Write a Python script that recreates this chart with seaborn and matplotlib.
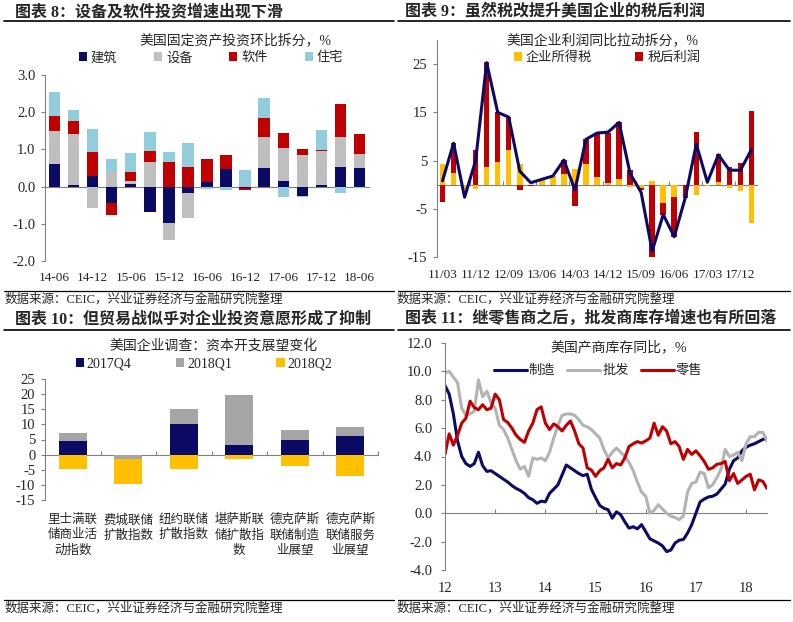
import matplotlib
matplotlib.use('Agg')  # no display
import matplotlib.pyplot as plt
from matplotlib.lines import Line2D
from matplotlib.ticker import FormatStrFormatter
import numpy as np
import pandas as pd
import seaborn as sns

# ---------------- data ----------------
# 图表 8: 美国固定资产投资环比拆分, %
quarters8 = ['14-06', '14-09', '14-12', '15-03', '15-06', '15-09', '15-12', '16-03', '16-06',
             '16-09', '16-12', '17-03', '17-06', '17-09', '17-12', '18-03', '18-06']
construction = [0.62, 0.03, 0.28, -0.43, 0.07, -0.69, -0.99, -0.18, 0.12, 0.47, -0.04, 0.50, 0.15, -0.26, 0.03, 0.52, 0.50]
equipment = [0.88, 1.38, -0.58, 0.39, 0.08, 0.67, -0.45, -0.66, 0.00, 0.00, 0.02, 0.82, 0.88, 0.86, 0.92, 0.80, 0.37]
software = [0.41, 0.36, 0.64, -0.34, 0.24, 0.29, 0.66, 0.53, 0.63, 0.39, -0.04, 0.52, 0.42, 0.14, 0.03, 0.90, 0.55]
residential = [0.64, 0.30, 0.64, 0.36, 0.50, 0.51, 0.28, 0.65, -0.06, -0.09, 0.42, 0.54, -0.29, -0.02, 0.55, -0.18, -0.05]
names8 = ['建筑', '设备', '软件', '住宅']

# 图表 9: 美国企业利润同比拉动拆分, %
quarters9 = ['11/03', '11/06', '11/09', '11/12', '12/03', '12/06', '12/09', '12/12', '13/03', '13/06',
             '13/09', '13/12', '14/03', '14/06', '14/09', '14/12', '15/03', '15/06', '15/09', '15/12',
             '16/03', '16/06', '16/09', '16/12', '17/03', '17/06', '17/09', '17/12', '18/03']
corp_tax = [4.2, 2.5, -1.0, -1.0, 3.6, 4.8, 7.2, 4.2, 0.0, 1.0, 1.7, 2.3, 3.2, 4.2, 1.5,
            0.3, 1.1, -0.5, -0.7, 0.7, -3.8, -2.6, 0.0, -2.2, -0.3, 0.5, -0.7, -1.4, -7.9]
after_tax = [-3.5, 6.1, 0.0, 7.2, 21.8, 10.2, 6.9, -1.2, -0.3, 0.0, 0.0, 2.8, -4.4, 5.2, 9.1,
             10.5, 11.8, 3.0, -0.5, -15.0, -2.5, -8.2, -2.7, 11.0, 0.0, 5.8, 3.7, 4.4, 15.3]
profit_total = [0.8, 8.6, -2.6, 5.0, 25.3, 15.0, 14.0, 2.8, 0.4, 1.1, 1.8, 5.1, -1.1, 9.4, 10.7,
                10.9, 12.9, 2.3, -1.6, -13.8, -6.2, -10.8, -2.7, 8.4, 0.5, 6.2, 3.0, 3.0, 7.3]
names9 = ['企业所得税', '税后利润']

# 图表 10: 美国企业调查: 资本开支展望变化
surveys = ['里士满联\n储商业活\n动指数', '费城联储\n扩散指数', '纽约联储\n扩散指数',
           '堪萨斯联\n储扩散指\n数', '德克萨斯\n联储制造\n业展望', '德克萨斯\n联储服务\n业展望']
q4_2017 = [4.5, 0.0, 10.0, 3.2, 4.9, 6.1]
q1_2018 = [2.7, -1.4, 5.0, 16.4, 3.4, 3.0]
q2_2018 = [-4.9, -8.2, -4.8, -1.5, -3.9, -7.2]
names10 = ['2017Q4', '2018Q1', '2018Q2']

# 图表 11: 美国产商库存同比, % (monthly from 2012-01)
manufacturing = [9.0, 8.4, 7.0, 5.1, 4.0, 3.5, 3.3, 3.5, 4.3, 3.35, 2.95, 3.0,
                 2.8, 2.6, 2.4, 2.2, 1.95, 1.75, 1.6, 1.4, 1.1, 0.95, 0.7, 0.85,
                 0.8, 1.4, 1.7, 2.0, 2.7, 3.4, 3.2, 3.0, 2.8, 2.65, 2.75, 1.7,
                 1.1, 0.55, 0.35, 0.25, -0.35, 0.1, -0.1, -0.6, -1.05, -0.95, -1.1, -0.8,
                 -1.3, -1.8, -1.95, -2.1, -2.3, -2.7, -2.6, -2.1, -1.9, -1.85, -1.4, -0.8,
                 0.0, 0.8, 1.0, 1.15, 1.2, 1.35, 1.7, 2.05, 3.1, 3.7, 3.9, 4.4,
                 4.65, 4.8, 4.9, 5.05, 5.2, 5.3]
wholesale = [9.9, 10.0, 9.6, 9.2, 7.4, 6.9, 7.0, 7.2, 9.4, 8.2, 8.6, 7.8,
             7.4, 6.2, 5.9, 5.3, 4.5, 3.7, 3.1, 3.3, 2.6, 3.9, 3.8, 3.9,
             3.7, 4.3, 5.3, 6.2, 6.9, 7.0, 7.0, 6.9, 6.6, 6.2, 6.1, 5.9,
             5.6, 5.3, 4.5, 3.9, 4.3, 4.6, 4.3, 4.0, 3.6, 3.0, 2.2, 1.5,
             1.2, 0.0, 0.2, 0.6, 0.3, 0.0, -0.2, -0.3, -0.45, -0.2, 1.5, 2.1,
             2.2, 2.9, 2.8, 1.8, 2.0, 2.5, 3.1, 4.5, 4.0, 4.1, 4.3, 3.7,
             4.9, 5.4, 5.4, 5.7, 5.7, 5.1]
retail = [4.15, 5.6, 4.8, 5.5, 6.35, 6.7, 7.9, 7.45, 7.3, 7.65, 7.3, 7.4,
          8.4, 8.0, 6.6, 6.4, 6.0, 5.5, 5.2, 5.0, 5.8, 6.35, 7.3, 7.5,
          6.35, 5.9, 6.3, 6.1, 5.8, 6.2, 6.5, 5.8, 4.9, 4.6, 3.2, 3.05,
          2.6, 3.0, 3.2, 3.8, 3.2, 3.5, 3.4, 3.9, 4.7, 4.9, 5.05, 4.95,
          5.1, 5.3, 6.35, 5.5, 6.1, 5.8, 4.9, 5.05, 4.7, 3.8, 4.5, 4.15,
          4.4, 4.05, 3.65, 3.1, 3.2, 3.45, 3.5, 3.65, 2.3, 2.8, 2.1, 2.35,
          2.6, 2.75, 1.65, 2.35, 2.25, 1.75]
names11 = ['制造', '批发', '零售']

# ---------------- style ----------------
sns.set_theme(style='white')
plt.rcParams['font.family'] = ['Liberation Serif', 'Noto Sans CJK SC']
plt.rcParams['axes.unicode_minus'] = False

NAVY = '#0b0b66'
RED = '#c00000'
LBLUE = '#92cddc'
YELLOW = '#ffc000'
AXC = '#808080'

W, H = 793, 622
fig = plt.figure(figsize=(W / 100, H / 100), dpi=100)
fig.patch.set_facecolor('white')


def px_axes(l, t, r, b):
    return fig.add_axes([l / W, 1 - b / H, (r - l) / W, (b - t) / H])


def fig_text(x, y, s, **kw):
    fig.text(x / W, 1 - y / H, s, **kw)


def hline(x0, x1, y, lw=1.2):
    fig.add_artist(Line2D([x0 / W, x1 / W], [1 - y / H, 1 - y / H], color='black',
                          lw=lw, transform=fig.transFigure))


def style_axes(ax, ypad=4):
    for s in ['top', 'right', 'bottom']:
        ax.spines[s].set_visible(False)
    ax.spines['left'].set_color(AXC)
    ax.spines['left'].set_linewidth(0.8)
    ax.tick_params(axis='y', left=True, length=3, width=0.8, color=AXC, labelsize=10.5, pad=ypad)
    ax.tick_params(axis='x', bottom=False, length=0, labelsize=10.5)
    ax.set_xlabel('')
    ax.set_ylabel('')
    ax.grid(False)


def zero_axis(ax, frac, ticks):
    sec = ax.secondary_xaxis(frac)
    sec.set_xticks(ticks)
    sec.tick_params(direction='in', length=3, width=0.8, color=AXC, labelbottom=False)
    sec.spines['bottom'].set_color(AXC)
    sec.spines['bottom'].set_linewidth(0.8)
    return sec


def stacked_bars(ax, cats, series, names, colors, width):
    pos = np.zeros(len(cats))
    neg = np.zeros(len(cats))
    for vals, name, c in zip(series, names, colors):
        vals = np.asarray(vals, dtype=float)
        bottom = np.where(vals >= 0, pos, neg)
        sns.barplot(x=cats, y=vals, bottom=bottom, color=c, saturation=1, width=width,
                    errorbar=None, label=name, linewidth=0, ax=ax)
        pos += np.clip(vals, 0, None)
        neg += np.clip(vals, None, 0)


def add_legend(ax, cx, cy, ncol, **kw):
    opts = dict(loc='center', bbox_to_anchor=(cx / W, 1 - cy / H), bbox_transform=fig.transFigure,
                ncol=ncol, frameon=False, fontsize=9.5, borderpad=0, borderaxespad=0)
    opts.update(kw)
    ax.legend(**opts)


title_kw = dict(fontsize=11.5, fontweight='bold', ha='left', va='center')
chart_kw = dict(fontsize=10, ha='center', va='center')
src_kw = dict(fontsize=9, ha='left', va='center')
source = '数据来源：CEIC，兴业证券经济与金融研究院整理'

# frame texts and rules
fig_text(15, 12, '图表 8：设备及软件投资增速出现下滑', **title_kw)
fig_text(405, 12, '图表 9：虽然税改提升美国企业的税后利润', **title_kw)
fig_text(15, 319, '图表 10：但贸易战似乎对企业投资意愿形成了抑制', **title_kw)
fig_text(405, 319, '图表 11：继零售商之后，批发商库存增速也有所回落', **title_kw)
hline(4, 394, 21)
hline(398, 790, 21)
hline(4, 394, 330)
hline(398, 790, 330)
hline(4, 394, 291, 0.9)
hline(398, 790, 291, 0.9)
hline(4, 394, 600, 0.9)
hline(398, 790, 600, 0.9)
fig_text(5, 299, source, **src_kw)
fig_text(397, 299, source, **src_kw)
fig_text(5, 608, source, **src_kw)
fig_text(397, 608, source, **src_kw)

# ---------------- panel 8 ----------------
ax8 = px_axes(45, 75, 369, 261)
stacked_bars(ax8, quarters8, [construction, equipment, software, residential], names8,
             [NAVY, '#bfbfbf', RED, LBLUE], 0.6)
style_axes(ax8)
ax8.set_ylim(-2, 3)
ax8.set_yticks(np.arange(-2, 3.01, 1))
ax8.yaxis.set_major_formatter(FormatStrFormatter('%.1f'))
ax8.set_xlim(-0.5, len(quarters8) - 0.5)
ax8.set_xticks(range(0, len(quarters8), 2))
ax8.set_xticklabels(quarters8[::2])
ax8.tick_params(axis='x', pad=8, labelsize=9.5)
zero_axis(ax8, 2 / 5, [])
fig_text(235, 40, '美国固定资产投资环比拆分，%', **chart_kw)
add_legend(ax8, 211, 58, 4, handlelength=0.6, handleheight=0.6, handletextpad=0.3, columnspacing=2.8)

# ---------------- panel 9 ----------------
ax9 = px_axes(437, 40, 757, 257)
stacked_bars(ax9, quarters9, [corp_tax, after_tax], names9, [YELLOW, RED], 0.5)
sns.lineplot(x=np.arange(len(quarters9)), y=profit_total, color=NAVY, linewidth=2.2, ax=ax9)
style_axes(ax9)
ax9.set_ylim(-15, 30)
ax9.set_yticks([-15, -5, 5, 15, 25])
ax9.set_xlim(-0.5, len(quarters9) - 0.5)
ax9.set_xticks(range(0, len(quarters9), 3))
ax9.set_xticklabels(quarters9[::3])
ax9.tick_params(axis='x', pad=9, labelsize=9.5)
zero_axis(ax9, 15 / 45, np.arange(-0.5, len(quarters9), 3))
fig_text(602, 40, '美国企业利润同比拉动拆分，%', **chart_kw)
add_legend(ax9, 607, 58, 2, handlelength=0.6, handleheight=0.6, handletextpad=0.3, columnspacing=3.3)

# ---------------- panel 10 ----------------
ax10 = px_axes(45, 379, 378, 500)
stacked_bars(ax10, surveys, [q4_2017, q1_2018, q2_2018], names10, [NAVY, '#a6a6a6', YELLOW], 0.5)
style_axes(ax10)
ax10.set_ylim(-15, 25)
ax10.set_yticks(range(-15, 26, 5))
ax10.set_xlim(-0.5, len(surveys) - 0.5)
ax10.tick_params(axis='x', pad=10, labelsize=9)
for t in ax10.get_xticklabels():
    t.set_linespacing(1.35)
zero_axis(ax10, 15 / 40, np.arange(0.5, len(surveys), 1))
fig_text(214, 346, '美国企业调查：资本开支展望变化', **chart_kw)
add_legend(ax10, 204, 364, 3, handlelength=0.6, handleheight=0.6, handletextpad=0.2, columnspacing=3.2,
           fontsize=10)

# ---------------- panel 11 ----------------
months = pd.date_range('2012-01-01', periods=len(manufacturing), freq='MS')
idx = np.arange(len(months))
ax11 = px_axes(445, 343, 767, 570)
for vals, name, c in zip([manufacturing, wholesale, retail], names11, [NAVY, '#b3b3b3', RED]):
    sns.lineplot(x=idx, y=vals, color=c, linewidth=2.2, label=name, ax=ax11)
style_axes(ax11, ypad=6)
ax11.set_ylim(-4, 12)
ax11.set_yticks(np.arange(-4, 12.01, 2))
ax11.yaxis.set_major_formatter(FormatStrFormatter('%.1f'))
ax11.set_xlim(0, idx[-1])
jan = months.month == 1
ax11.set_xticks(idx[jan])
ax11.set_xticklabels(months[jan].strftime('%y'))
ax11.tick_params(axis='x', pad=9)
zero_axis(ax11, 4 / 16, idx[jan])
fig_text(619, 347, '美国产商库存同比，%', **chart_kw)
add_legend(ax11, 598, 371, 3, handlelength=2.5, handletextpad=0.15, columnspacing=0.9)

fig.savefig('out.png', dpi=100, facecolor='white')
